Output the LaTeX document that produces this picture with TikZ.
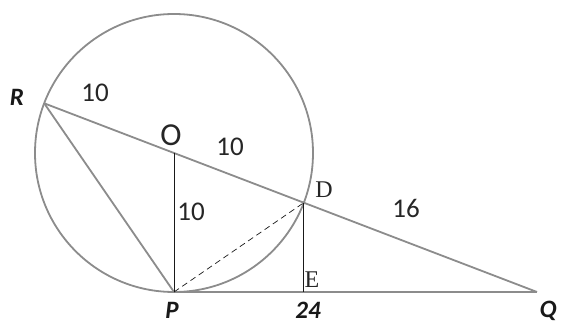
\documentclass[tikz,border=0pt]{standalone}
\usepackage{fontspec}
\newfontfamily\labfont{Carlito}
\newfontfamily\serfont{Liberation Serif}
\begin{document}
\begin{tikzpicture}[x=1pt,y=-1pt,
  geo/.style={draw=black!45,line width=1.8pt},
  thin/.style={draw=black!90,line width=0.9pt},
  num/.style={text=black!85,font=\labfont\fontsize{27}{27}\selectfont,inner sep=0pt},
  pt/.style={text=black!90,font=\labfont\bfseries\itshape\fontsize{25}{25}\selectfont,inner sep=0pt},
  ser/.style={text=black!85,font=\serfont\fontsize{24}{24}\selectfont,inner sep=0pt}]
\useasboundingbox[fill=white] (0,0) rectangle (563,326);
\coordinate (O) at (174,153);
\coordinate (P) at (174,292);
\coordinate (R) at (44.2,103.3);
\coordinate (D) at (303.8,202.7);
\coordinate (E) at (303.8,292);
\coordinate (Q) at (537,292);
\draw[geo] (O) circle[radius=139];
\draw[geo] (R) -- (Q);
\draw[geo] (R) -- (P);
\draw[geo] (P) -- (Q);
\draw[thin] (O) -- (P);
\draw[thin] (D) -- (E);
\draw[thin,line width=0.7pt,dash pattern=on 6pt off 4pt] (P) -- (D);
\node[pt] (lR) at (17,97) {R};
\node[pt] (lP) at (172,310) {P};
\node[pt] (lQ) at (548,311) {Q};
\node[pt] (l24) at (308,310) {24};
\node[num] (n1) at (95,93) {10};
\node[num] (n2) at (230,147) {10};
\node[num] (n3) at (191,212) {10};
\node[num] (n4) at (406,208) {16};
\node[num,font=\labfont\fontsize{32}{32}\selectfont] (lO) at (171,135) {O};
\node[ser] (lD) at (324,190) {D};
\node[ser] (lE) at (312,280) {E};
\end{tikzpicture}
\end{document}
